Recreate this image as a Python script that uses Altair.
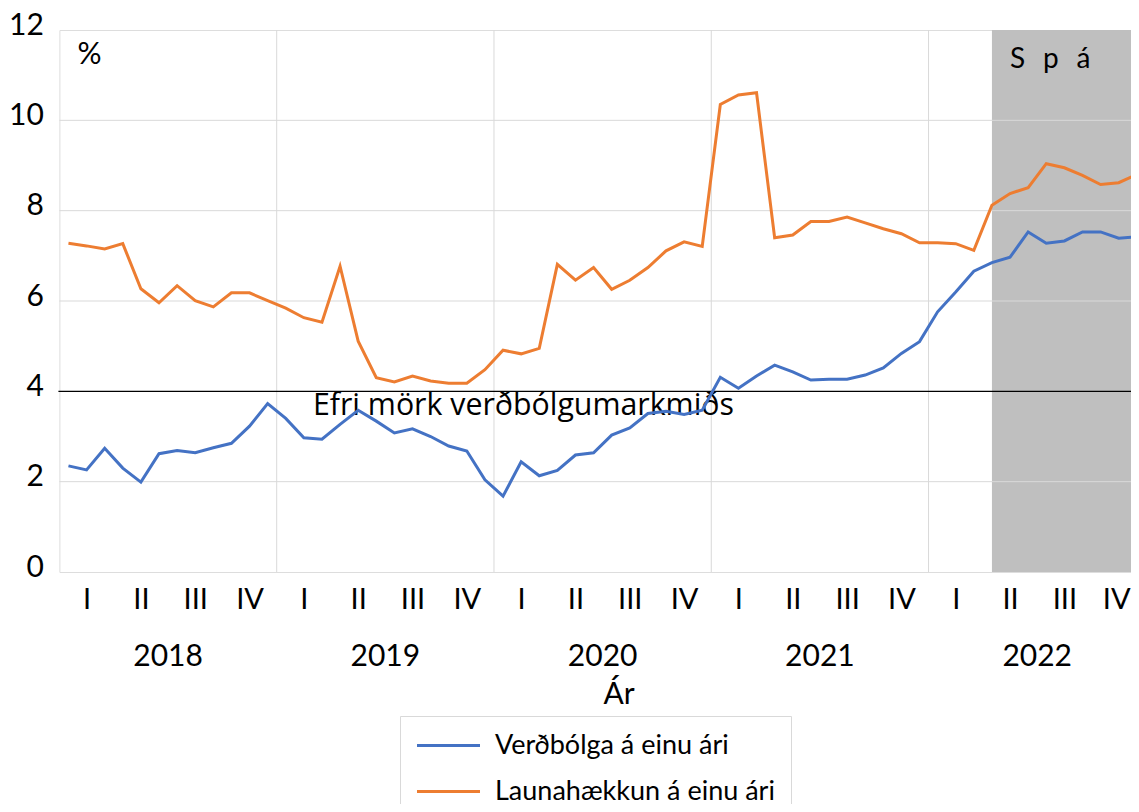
import altair as alt
import pandas as pd

# ---- data ----
years = [2018, 2019, 2020, 2021, 2022]
quarter_names = ["I", "II", "III", "IV"]
series_names = ["Verðbólga á einu ári", "Launahækkun á einu ári"]
series_colors = ["#4472C4", "#ED7D31"]

verdbolga = [2.35, 2.26, 2.74, 2.30, 1.99, 2.62, 2.69, 2.64, 2.75, 2.85, 3.23, 3.73,
             3.40, 2.97, 2.94, 3.27, 3.58, 3.34, 3.08, 3.17, 3.00, 2.79, 2.68, 2.04,
             1.68, 2.44, 2.13, 2.25, 2.59, 2.64, 3.03, 3.19, 3.51, 3.56, 3.49, 3.58,
             4.31, 4.07, 4.34, 4.58, 4.43, 4.25, 4.27, 4.27, 4.36, 4.52, 4.84, 5.10,
             5.76, 6.20, 6.66, 6.85, 6.97, 7.53, 7.28, 7.33, 7.53, 7.53, 7.39, 7.42]
launahaekkun = [7.28, 7.22, 7.15, 7.27, 6.27, 5.96, 6.34, 6.01, 5.87, 6.18, 6.18, 6.01,
                5.84, 5.63, 5.53, 6.77, 5.11, 4.30, 4.21, 4.34, 4.23, 4.18, 4.18, 4.48,
                4.91, 4.83, 4.95, 6.81, 6.46, 6.74, 6.26, 6.46, 6.74, 7.11, 7.31, 7.21,
                10.35, 10.56, 10.61, 7.40, 7.46, 7.76, 7.76, 7.86, 7.73, 7.60, 7.49, 7.29,
                7.29, 7.27, 7.12, 8.12, 8.38, 8.51, 9.04, 8.95, 8.78, 8.58, 8.62, 8.80]

forecast_start = "2022-04"
forecast_label = "S\u00a0\u00a0\u2009p\u00a0\u00a0\u2009á"
threshold = 4.0
threshold_label = "Efri mörk verðbólgumarkmiðs"
y_ticks = [0, 2, 4, 6, 8, 10, 12]
y_grid = [2, 6, 8, 10]

# ---- tables ----
months = pd.period_range("2018-01", periods=len(verdbolga), freq="M")


def month_pos(p):
    return (p.year - years[0]) * 12 + (p.month - 1) + 0.5


pos = [month_pos(p) for p in months]
lines_df = pd.concat([
    pd.DataFrame({"x": pos, "value": verdbolga, "series": series_names[0]}),
    pd.DataFrame({"x": pos, "value": launahaekkun, "series": series_names[1]}),
])
year_df = pd.DataFrame({"year": [str(y) for y in years],
                        "x": [i * 12 + 6 for i in range(len(years))]})
year_bounds = pd.DataFrame({"x": [i * 12 for i in range(1, len(years))]})
grid_df = pd.DataFrame({"y": y_grid})
fc_pos = month_pos(pd.Period(forecast_start, freq="M"))
fc_df = pd.DataFrame({"x": [fc_pos], "label": [forecast_label], "tx": [fc_pos + 1.0]})
thr_df = pd.DataFrame({"y": [threshold], "label": [threshold_label], "x": [14.0]})
quarter_ticks = [q * 3 + 1.5 for q in range(len(years) * 4)]

W = 1071.6
H = 542
FONT = "Lato"
x_dom = [0, 59.18]

xs = alt.Scale(domain=x_dom, nice=False, zero=False)
ys = alt.Scale(domain=[0, 12], nice=False)

base_x_axis = alt.Axis(
    values=quarter_ticks,
    labelExpr="['I','II','III','IV'][floor(datum.value / 3) % 4]",
    ticks=False, domain=False, grid=False,
    labelFont=FONT, labelFontSize=29, labelColor="black",
    labelBaseline="alphabetic", labelPadding=36, labelAngle=0,
    labelOverlap=False,
    labelOffset={"condition": {"test": "datum.value > 58", "value": -2.5}, "value": 0},
    title="Ár", titleFont=FONT, titleFontSize=30, titleFontWeight="normal",
    titleColor="black", titleX=543.6, titleY=131, titleAlign="left",
    titleBaseline="alphabetic", titleAnchor="start",
)
base_y_axis = alt.Axis(
    values=y_ticks, ticks=False, domain=False, grid=False,
    labelFont=FONT, labelFontSize=30, labelColor="black",
    labelBaseline="alphabetic", labelOffset=4, labelPadding=16,
    title="%", titleFont=FONT, titleFontSize=30, titleFontWeight="normal",
    titleColor="black", titleAngle=0, titleX=17.6, titleY=33,
    titleAlign="left", titleBaseline="alphabetic",
)

shade = alt.Chart(fc_df).mark_rect(color="#bfbfbf").encode(
    x=alt.X("x:Q", scale=xs, axis=base_x_axis),
    x2=alt.value(W),
    y=alt.value(0),
    y2=alt.value(H),
)

hgrid = alt.Chart(grid_df).mark_rule(color="#d9d9d9", strokeWidth=1).encode(
    y=alt.Y("y:Q", scale=ys, axis=base_y_axis),
    x=alt.value(0),
    x2=alt.value(W),
)

vgrid = alt.Chart(year_bounds).mark_rule(color="#d9d9d9", strokeWidth=1).encode(
    x=alt.X("x:Q", scale=xs),
    y=alt.value(0),
    y2=alt.value(H),
)

thr_rule = alt.Chart(thr_df).mark_rule(color="black", strokeWidth=1.3).encode(
    y=alt.Y("y:Q", scale=ys),
    x=alt.value(-1),
    x2=alt.value(W),
)

thr_text = alt.Chart(thr_df).mark_text(
    font="Open Sans", fontSize=30.3, color="black", align="left",
    baseline="alphabetic", dy=23.5,
).encode(
    x=alt.X("x:Q", scale=xs),
    y=alt.Y("y:Q", scale=ys),
    text="label:N",
)

lines = alt.Chart(lines_df).mark_line(strokeWidth=3).encode(
    x=alt.X("x:Q", scale=xs),
    y=alt.Y("value:Q", scale=ys),
    color=alt.Color(
        "series:N",
        scale=alt.Scale(domain=series_names, range=series_colors),
        sort=series_names,
        legend=alt.Legend(
            orient="none", legendX=340.6, legendY=686, title=None,
            direction="vertical",
            symbolType="M-1,0H5", symbolSize=441, symbolStrokeWidth=3,
            symbolOffset=-2,
            labelFont=FONT, labelFontSize=27, labelColor="black",
            labelOffset=54, padding=16, rowPadding=18,
            strokeColor="#d9d9d9", labelLimit=500,
        ),
    ),
    detail="series:N",
)

fc_text = alt.Chart(fc_df).mark_text(
    font=FONT, fontSize=28, color="black", align="left", baseline="alphabetic",
).encode(
    x=alt.X("tx:Q", scale=xs),
    y=alt.value(38),
    text="label:N",
)

year_text = alt.Chart(year_df).mark_text(
    font=FONT, fontSize=30, color="black", align="center", baseline="alphabetic",
).encode(
    x=alt.X("x:Q", scale=xs),
    y=alt.value(636),
    text="year:N",
)

chart = alt.layer(
    shade, hgrid, vgrid, thr_rule, thr_text, lines, fc_text, year_text
).properties(
    width=W, height=H,
    autosize=alt.AutoSizeParams(type="none"),
    padding={"left": 51.4, "top": 22, "right": 0, "bottom": 232},
).configure_view(stroke=None).configure(background="white")

chart.save("out.html", embed_options={"renderer": "svg", "actions": False})
